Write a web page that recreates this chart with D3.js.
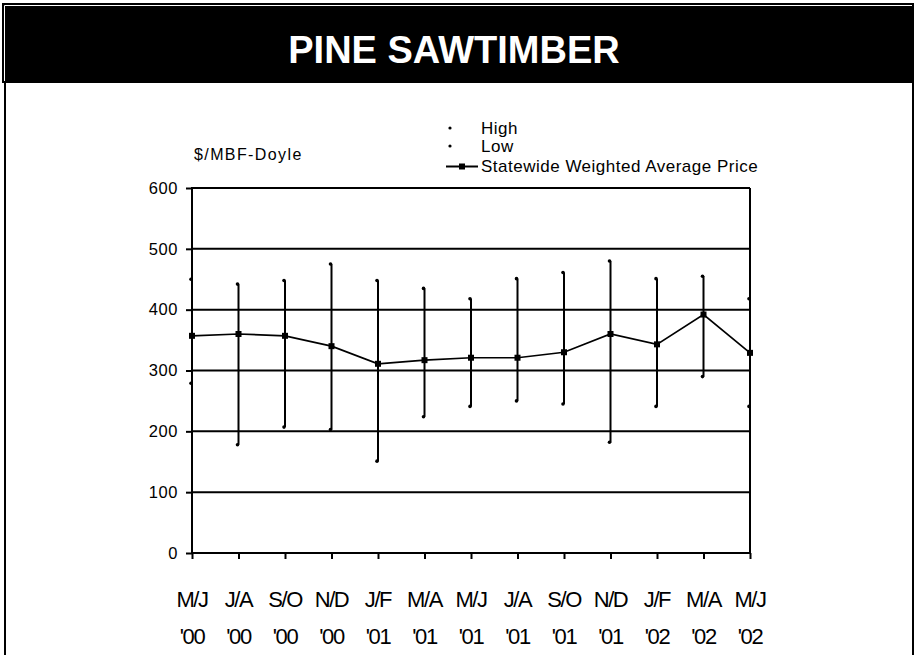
<!DOCTYPE html>
<html>
<head>
<meta charset="utf-8">
<script src="https://cdn.jsdelivr.net/npm/d3@7"></script>
<style>
  body { margin: 0; background: #fff; }
  text { font-family: Arial, "Liberation Sans", sans-serif; fill: #000; }
</style>
</head>
<body>
<script>
// bi-monthly periods
const periods = ["M/J '00", "J/A '00", "S/O '00", "N/D '00", "J/F '01", "M/A '01", "M/J '01",
                 "J/A '01", "S/O '01", "N/D '01", "J/F '02", "M/A '02", "M/J '02"];
const highPrice = [450, 442, 448, 475, 448, 435, 418, 451, 461, 480, 451, 455, 418];
const lowPrice  = [279, 178, 207, 203, 151, 224, 241, 250, 245, 182, 241, 290, 241];
const avgPrice  = [357, 360, 357, 340, 311, 317, 321, 321, 330, 360, 343, 392, 329];
const yTicks = [0, 100, 200, 300, 400, 500, 600];

const W = 918, H = 655;
const svg = d3.select("body").append("svg")
    .attr("width", W)
    .attr("height", H);

// title bar
svg.append("rect").attr("x", 2).attr("y", 3).attr("width", 912).attr("height", 80).attr("fill", "#000");
svg.append("path").attr("d", "M4.5,81V5.5H912").attr("fill", "none").attr("stroke", "#fff").attr("stroke-width", 1);
svg.append("text")
    .attr("x", 454).attr("y", 63)
    .attr("text-anchor", "middle")
    .style("font-size", "38px").style("font-weight", "bold").style("fill", "#fff")
    .text("PINE SAWTIMBER");

// side borders
svg.append("line").attr("x1", 5).attr("x2", 5).attr("y1", 83).attr("y2", H).attr("stroke", "#000").attr("stroke-width", 2);
svg.append("line").attr("x1", 913).attr("x2", 913).attr("y1", 83).attr("y2", H).attr("stroke", "#000").attr("stroke-width", 2);

const x = d3.scalePoint().domain(periods).range([192, 750]);
const y = d3.scaleLinear().domain([0, 600]).range([553, 188]);

// gridlines
svg.append("g").selectAll("line").data(yTicks.slice(1)).enter().append("line")
    .attr("x1", 192).attr("x2", 750)
    .attr("y1", d => y(d)).attr("y2", d => y(d))
    .attr("stroke", "#000").attr("stroke-width", 2);

// right edge
svg.append("line").attr("x1", 750).attr("x2", 750).attr("y1", y(600)).attr("y2", y(0))
    .attr("stroke", "#000").attr("stroke-width", 2);

// y axis
const yAxis = svg.append("g")
    .attr("transform", "translate(192,0)")
    .call(d3.axisLeft(y).tickValues(yTicks).tickSize(6).tickPadding(8));
yAxis.select(".domain").remove();
yAxis.selectAll(".tick line").attr("stroke", "#000").attr("stroke-width", 2);
yAxis.selectAll("text").style("font-size", "16.5px").style("letter-spacing", "0.6px").attr("font-family", null);
svg.append("line").attr("x1", 192).attr("x2", 192).attr("y1", y(600) - 1).attr("y2", y(0) + 1)
    .attr("stroke", "#000").attr("stroke-width", 2);

// x axis
const xAxis = svg.append("g")
    .attr("transform", "translate(0," + y(0) + ")")
    .call(d3.axisBottom(x).tickSize(6).tickFormat(""));
xAxis.select(".domain").attr("stroke-width", 2).attr("d", "M191,0H751");
xAxis.selectAll(".tick line").attr("stroke", "#000").attr("stroke-width", 2);

const xLab = svg.append("g").selectAll("text").data(periods).enter().append("text")
    .attr("x", d => x(d))
    .attr("text-anchor", "middle")
    .style("font-size", "22px").style("letter-spacing", "-1.4px");
xLab.append("tspan").attr("x", d => x(d)).attr("y", 607).text(d => d.split(" ")[0]);
xLab.append("tspan").attr("x", d => x(d)).attr("y", 644).text(d => d.split(" ")[1]);

// high-low lines
svg.append("g").selectAll("line").data(periods).enter().append("line")
    .attr("x1", d => x(d)).attr("x2", d => x(d))
    .attr("y1", (d, i) => y(highPrice[i])).attr("y2", (d, i) => y(lowPrice[i]))
    .attr("stroke", "#000").attr("stroke-width", 2);

svg.append("g").selectAll("circle").data(highPrice.concat(lowPrice)).enter().append("circle")
    .attr("cx", (d, i) => x(periods[i % periods.length]) - 1)
    .attr("cy", d => y(d))
    .attr("r", 1.8)
    .attr("fill", "#000");

// average line
const line = d3.line().x((d, i) => x(periods[i])).y(d => y(d));
svg.append("path").datum(avgPrice)
    .attr("d", line)
    .attr("fill", "none").attr("stroke", "#000").attr("stroke-width", 1.7);
svg.append("g").selectAll("rect").data(avgPrice).enter().append("rect")
    .attr("x", (d, i) => x(periods[i]) - 3)
    .attr("y", d => y(d) - 3)
    .attr("width", 6).attr("height", 6)
    .attr("fill", "#000");

// unit label
svg.append("text").attr("x", 194).attr("y", 160)
    .style("font-size", "16px").style("letter-spacing", "1.4px")
    .text("$/MBF-Doyle");

// legend
const legend = svg.append("g");
legend.append("circle").attr("cx", 450).attr("cy", 128).attr("r", 1.6).attr("fill", "#000");
legend.append("text").attr("x", 481).attr("y", 134).style("font-size", "17px").style("letter-spacing", "0.5px").text("High");
legend.append("circle").attr("cx", 450).attr("cy", 146).attr("r", 1.6).attr("fill", "#000");
legend.append("text").attr("x", 481).attr("y", 152).style("font-size", "17px").style("letter-spacing", "0.5px").text("Low");
legend.append("line").attr("x1", 446).attr("x2", 478).attr("y1", 166.5).attr("y2", 166.5)
    .attr("stroke", "#000").attr("stroke-width", 2);
legend.append("rect").attr("x", 459).attr("y", 163.5).attr("width", 6).attr("height", 6).attr("fill", "#000");
legend.append("text").attr("x", 481).attr("y", 172).style("font-size", "17px").style("letter-spacing", "0.5px")
    .text("Statewide Weighted Average Price");
</script>
</body>
</html>
